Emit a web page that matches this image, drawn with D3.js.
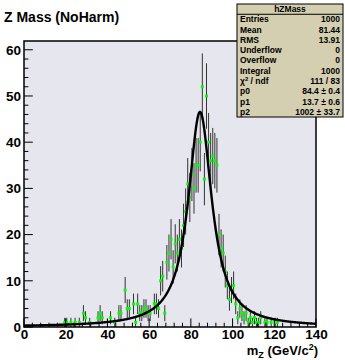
<!DOCTYPE html>
<html><head><meta charset="utf-8">
<script src="https://cdn.jsdelivr.net/npm/d3@7"></script>
<style>
body{margin:0;background:#fff}
text{font-family:"Liberation Sans",Arial,Helvetica,sans-serif;font-weight:bold;fill:#000}
</style>
</head><body>
<svg id="c" width="345" height="360"></svg>
<script>
// ---- data ----
const histName = "hZMass";
const title = "Z Mass (NoHarm)";
const xMin = 0, xMax = 140;
// counts per 1 GeV bin, bins [0,1) ... [139,140)
const counts = [
 0,0,0,0,0,0,0,0,0,0,
 0,0,0,0,0,0,0,0,0,1,
 1,0,1,0,1,0,1,0,3,2,
 0,1,0,0,0,2,3,2,0,0,
 0,2,0,1,0,3,3,0,8,4,
 4,0,5,1,5,3,3,4,4,3,
 3,0,5,5,4,10,11,3,14,16,
 19,13,18,16,19,17,22,25,31,28,
 33,30,35,35,40,52,32,50,40,36,
 37,36,35,20,17,16,12,9,6,8,
 9,5,2,4,3,2,3,1,2,1,
 2,1,1,2,0,1,1,0,1,0,
 1,1,0,0,0,0,0,0,0,0,
 0,0,0,0,0,0,0,0,0,0
];
const xTicks = [0,20,40,60,80,100,120,140];
const yTicks = [0,10,20,30,40,50,60];
const yMax = 61.9;
const fitP0 = 84.4, fitP1 = 13.7, fitP2 = 1002;
const statLabels = ["Entries","Mean","RMS","Underflow","Overflow","Integral","χ2 / ndf","p0","p1","p2"];
const statValues = ["1000","81.44","13.91","0","0","1000","111 / 83","84.4 ± 0.4","13.7 ± 0.6","1002 ± 33.7"];

// ---- layout ----
const svg = d3.select("#c");
const L = 24, R = 316, T = 41, B = 327;
const x = d3.scaleLinear().domain([xMin, xMax]).range([L, R]);
const y = d3.scaleLinear().domain([0, yMax]).range([B, T]);

svg.append("rect").attr("x",L).attr("y",T).attr("width",R-L).attr("height",B-T)
  .attr("fill","#e6e6ee");

// histogram error bars + markers
const bins = counts.map((c,i)=>({c, lo:xMin+i, hi:xMin+i+1})).filter(d=>d.c>0);
const g = svg.append("g");
g.selectAll("line.err").data(bins).join("line").attr("class","err")
  .attr("x1",d=>x((d.lo+d.hi)/2)).attr("x2",d=>x((d.lo+d.hi)/2))
  .attr("y1",d=>y(Math.min(yMax,d.c+Math.sqrt(d.c)))).attr("y2",d=>y(Math.max(0,d.c-Math.sqrt(d.c))))
  .attr("stroke","#333").attr("stroke-width",1);
g.selectAll("rect.mk").data(bins).join("rect").attr("class","mk")
  .attr("x",d=>x((d.lo+d.hi)/2)-1.5).attr("y",d=>y(d.c)-1.5)
  .attr("width",3).attr("height",3).attr("fill","#00ff00");

// fit curve
const bw = xv => fitP2 * (fitP1/(2*Math.PI)) / ((xv-fitP0)*(xv-fitP0) + fitP1*fitP1/4);
const xs = d3.range(xMin, xMax+0.001, 0.25);
svg.append("path").datum(xs)
  .attr("d", d3.line().x(d=>x(d)).y(d=>y(bw(d))))
  .attr("fill","none").attr("stroke","#000").attr("stroke-width",2.4);

// ticks inside frame
const ax = svg.append("g");
d3.range(0,141,4).forEach(v=>{
  const major = v%20===0;
  ax.append("line").attr("x1",x(v)).attr("x2",x(v)).attr("y1",B).attr("y2",B-(major?8.6:4.3))
    .attr("stroke","#000").attr("stroke-width",1);
});
d3.range(0,61,2).forEach(v=>{
  const major = v%10===0;
  ax.append("line").attr("x1",L).attr("x2",L+(major?8.8:4.4)).attr("y1",y(v)).attr("y2",y(v))
    .attr("stroke","#000").attr("stroke-width",1);
});
svg.append("g").attr("transform",`translate(0,${B})`)
  .call(d3.axisBottom(x).tickValues(xTicks).tickSize(0).tickPadding(2))
  .call(s=>{s.select(".domain").remove(); s.selectAll("text").attr("font-size",13.5).attr("font-family",null).attr("dy","0.75em");});
svg.append("g").attr("transform",`translate(${L},0)`)
  .call(d3.axisLeft(y).tickValues(yTicks).tickSize(0).tickPadding(3))
  .call(s=>{s.select(".domain").remove(); s.selectAll("text").attr("font-size",13.5).attr("font-family",null);});

// frame
svg.append("rect").attr("x",L).attr("y",T).attr("width",R-L).attr("height",B-T)
  .attr("fill","none").attr("stroke","#000").attr("stroke-width",1.5);

// title
svg.append("text").attr("x",4).attr("y",22).attr("font-size",14).text(title);

// axis title
const at = svg.append("text").attr("x",R+2).attr("y",355).attr("text-anchor","end").attr("font-size",13);
at.append("tspan").text("m");
at.append("tspan").attr("font-size",9).attr("dy",3).text("Z");
at.append("tspan").attr("dy",-3).text(" (GeV/c");
at.append("tspan").attr("font-size",9).attr("dy",-5).text("2");
at.append("tspan").attr("dy",5).text(")");

// stats box
const sx=237, sy=4, sw=106, sh=113, rh=sh/11;
const sb = svg.append("g");
sb.append("rect").attr("x",sx).attr("y",sy).attr("width",sw).attr("height",sh)
  .attr("fill","#d4cfb0").attr("stroke","#000").attr("stroke-width",1);
sb.append("line").attr("x1",sx).attr("x2",sx+sw).attr("y1",sy+rh).attr("y2",sy+rh).attr("stroke","#000");
sb.append("text").attr("x",sx+sw/2).attr("y",sy+rh/2).attr("dy","0.35em").attr("text-anchor","middle")
  .attr("font-size",8.5).text(histName);
statLabels.forEach((lab,i)=>{
  const cy = sy + rh*(i+1.5);
  const t = sb.append("text").attr("x",sx+3).attr("y",cy).attr("dy","0.35em").attr("font-size",8.5);
  if(lab.startsWith("χ2")){
    t.append("tspan").text("χ");
    t.append("tspan").attr("font-size",6).attr("dy",-3).text("2");
    t.append("tspan").attr("dy",3).text(" / ndf");
  } else t.text(lab);
  sb.append("text").attr("x",sx+sw-3).attr("y",cy).attr("dy","0.35em").attr("text-anchor","end")
    .attr("font-size",8.5).text(statValues[i]);
});
</script>
</body></html>
